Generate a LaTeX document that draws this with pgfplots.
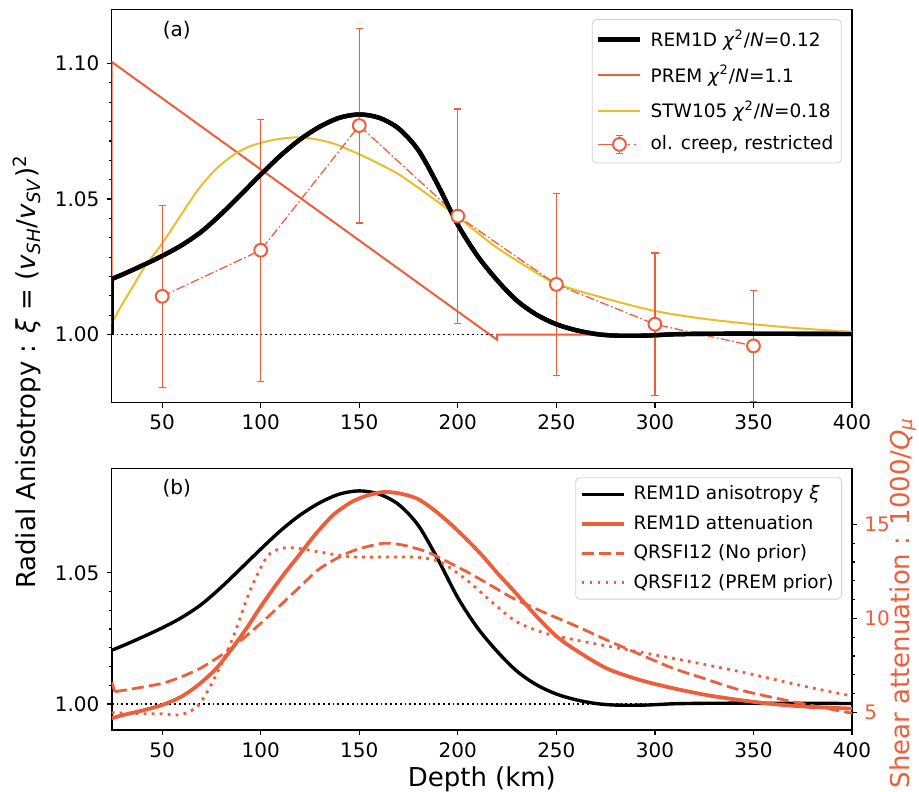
\documentclass[border=0pt]{standalone}
\usepackage{pgfplots}
\pgfplotsset{compat=1.18}
\usepackage{pgfplotstable}
\usepackage{fontspec}
\setmainfont{DejaVu Sans}[ItalicFont={DejaVu Sans Oblique},BoldFont={DejaVu Sans Bold}]
\definecolor{oc}{RGB}{237,95,60}
\definecolor{yc}{RGB}{233,190,42}

\pgfplotstableread{
x y
24.4 1.0205
30 1.0222
40 1.0255
50 1.0290
60 1.0330
70 1.0380
80 1.0445
90 1.0517
100 1.0590
110 1.0660
120 1.0720
130 1.0767
140 1.0800
150 1.0812
160 1.0800
170 1.0760
180 1.0680
190 1.0550
200 1.0405
210 1.0290
220 1.0200
230 1.0125
240 1.0073
250 1.0038
260 1.0016
270 1.0002
280 0.9996
295 0.9996
310 1.0001
330 1.0003
360 1.0003
400 1.0002
}\remxi

\pgfplotstableread{
x y
24.4 1.0000
24.4 1.1006
220 0.9980
220 1.0000
400 1.0000
}\prem

\pgfplotstableread{
x y
24.4 1.0041
30 1.0115
35.4 1.0180
41.2 1.0250
50 1.0336
60 1.0446
69.3 1.0545
78 1.0615
86.1 1.0662
93 1.0690
100 1.0707
108 1.0720
116.5 1.0727
125 1.0724
136.8 1.0705
150 1.0665
160 1.0630
170.7 1.0588
185 1.0515
200 1.0434
218 1.0330
235 1.0250
250 1.0188
275 1.0133
300 1.0087
325 1.0058
350 1.0038
375 1.0022
400 1.0010
}\stw

\pgfplotstableread{
x y e
50 1.0141 0.0336
100 1.0311 0.0483
150 1.0771 0.0359
200 1.0437 0.0395
250 1.0185 0.0335
300 1.0038 0.0263
350 0.9958 0.0205
}\creep

\pgfplotstableread{
x y
24.4 4.68
30 4.85
40 5.10
50 5.39
60 5.85
69.3 6.54
78 7.40
86.1 8.49
93 9.50
100 10.62
110 12.10
119.9 13.42
128 14.50
136.8 15.50
145 16.12
150 16.38
155 16.56
162.2 16.72
170 16.65
179.1 16.38
187.5 15.80
196 15.05
204.5 14.20
212.9 13.28
221 12.30
229.8 11.30
240 10.10
250 9.05
260 8.30
275.5 7.34
292.4 6.72
309.3 6.28
326.2 5.92
343.2 5.65
360 5.44
377 5.30
400 5.20
}\remq

\pgfplotstableread{
x y
26 6.10
35 6.25
50 6.54
60 6.90
69.3 7.34
78 7.90
86.1 8.49
100 9.73
110 10.70
119.9 11.68
130 12.65
141.9 13.37
150 13.70
162.2 13.99
172 13.90
184.2 13.54
194 13.05
204.5 12.48
216 11.80
228.2 11.06
243 10.35
252 9.95
264 9.40
275.5 8.85
292 8.10
309.3 7.34
325 6.80
343.2 6.19
370.2 5.56
400 4.95
}\qnp

\pgfplotstableread{
x y
24.4 4.98
40 4.93
50 4.92
57.5 4.86
63 5.00
69.3 5.48
77.8 7.07
86.1 9.02
94.7 11.50
103.2 13.27
110 13.70
116.8 13.75
128.6 13.55
145.3 13.28
165 13.26
179.3 13.25
191 13.00
204.5 12.04
218 10.80
229.8 9.82
243 9.25
255 8.95
275.5 8.53
309.3 7.87
343.2 7.16
377 6.36
400 5.87
}\qpp

\pgfplotsset{
  myax/.style={
    scale only axis, width=370.15pt,
    xmin=24.4, xmax=400,
    xtick={50,100,...,400},
    tick align=outside,
    major tick length=2.6pt, minor tick length=1.6pt,
    every tick/.style={black, line width=0.6pt},
    axis line style={line width=0.6pt},
    tick label style={font=\fontsize{10}{12}\selectfont},
    /pgf/number format/assume math mode=true,
    legend cell align=left,
  },
  legline/.style={legend image code/.code={\draw[##1] (0pt,0pt) -- (21pt,0pt);}},
}

\begin{document}
\begin{tikzpicture}
\useasboundingbox (0,0) rectangle (459.5pt,-395.5pt);

% ---------- panel (a) ----------
\begin{axis}[myax,
  at={(55.85pt,-201.15pt)}, anchor=south west,
  height=196.5pt,
  ymin=0.975, ymax=1.12,
  ytick={1.00,1.05,1.10},
  minor y tick num=6,
  xtick pos=bottom, ytick pos=left,
  yticklabel style={/pgf/number format/.cd, fixed, fixed zerofill, precision=2},
  legend style={at={(0.986,0.975)}, anchor=north east, draw=black!18, rounded corners=2pt,
    fill=white, font=\fontsize{9.25}{11}\selectfont, row sep=3.6pt,
    inner xsep=2pt, inner ysep=3pt, column sep=2pt},
]
\addplot[black, line width=0.9pt, dash pattern=on 0.9pt off 1.5pt, forget plot] coordinates {(24.4,1) (400,1)};
\addplot[black, line width=2.2pt, smooth, legline] table[x=x,y=y]{\remxi};
\addlegendentry{REM1D \textit{χ}\textsuperscript{2}/\textit{N}=0.12}
\addplot[oc, line width=1pt, legline] table[x=x,y=y]{\prem};
\addlegendentry{PREM \textit{χ}\textsuperscript{2}/\textit{N}=1.1}
\addplot[yc, line width=1pt, smooth, legline] table[x=x,y=y]{\stw};
\addlegendentry{STW105 \textit{χ}\textsuperscript{2}/\textit{N}=0.18}
\addplot[oc, line width=0.65pt, dash pattern=on 4.5pt off 1.3pt on 0.8pt off 1.3pt,
  mark=*, mark size=3.2pt, mark options={solid, fill=white, draw=oc, line width=1pt},
  legend image code/.code={
    \draw[solid, oc, line width=0.65pt] (0pt,0pt) -- (14pt,0pt);
    \draw[oc, line width=0.65pt, dash pattern=on 1pt off 2pt] (15pt,0pt) -- (21pt,0pt);
    \draw[solid, oc, line width=0.65pt] (10.5pt,-4.5pt) -- (10.5pt,4.5pt);
    \draw[solid, oc, line width=0.65pt] (8.7pt,-4.5pt) -- (12.3pt,-4.5pt) (8.7pt,4.5pt) -- (12.3pt,4.5pt);
    \draw[solid, oc, line width=1pt, fill=white] (10.5pt,0pt) circle (3.2pt);
  },
  error bars/.cd, y dir=both, y explicit,
  error mark=|,
  error bar style={solid, oc, line width=0.65pt},
  error mark options={solid, oc, line width=0.65pt, mark size=1.8pt},
  ] table[x=x,y=y,y error=e]{\creep};
\addlegendentry{ol. creep, restricted}
\addplot[black, line width=2.2pt, forget plot] coordinates {(24.4,1) (24.4,1.0205)};
\addplot[black, line width=2.2pt, smooth, forget plot] table[x=x,y=y]{\remxi};
\node at (rel axis cs:0.088,0.947) {\fontsize{10}{12}\selectfont (a)};
\end{axis}

% ---------- panel (b) ----------
\begin{axis}[myax,
  at={(55.85pt,-365pt)}, anchor=south west,
  height=130.85pt,
  ymin=0.9901, ymax=1.0898,
  ytick={1.00,1.05},
  minor y tick num=6,
  xtick pos=bottom, ytick pos=left,
  yticklabel style={/pgf/number format/.cd, fixed, fixed zerofill, precision=2},
  xlabel={Depth (km)},
  xlabel style={font=\fontsize{13}{15}\selectfont, yshift=2pt},
]
\addplot[black, line width=0.9pt, dash pattern=on 0.9pt off 1.5pt] coordinates {(24.4,1) (400,1)};
\addplot[black, line width=1.7pt] coordinates {(24.4,0.99) (24.4,1.0205)};
\addplot[black, line width=1.7pt, smooth] table[x=x,y=y]{\remxi};
\node at (rel axis cs:0.088,0.925) {\fontsize{10}{12}\selectfont (b)};
\end{axis}

\begin{axis}[myax,
  at={(55.85pt,-365pt)}, anchor=south west,
  height=130.85pt,
  ymin=4.06, ymax=17.98,
  ytick={5,10,15},
  minor y tick num=4,
  axis x line=none,
  axis y line*=right,
  yticklabel style={text=oc},
  legend style={at={(0.9865,0.9656)}, anchor=north east, draw=black!18, rounded corners=2pt,
    fill=white, font=\fontsize{9.25}{11}\selectfont, row sep=2.2pt,
    inner xsep=2pt, inner ysep=2pt, column sep=2pt},
]
\addlegendimage{black, line width=1.7pt, legline}
\addlegendentry{REM1D anisotropy \textit{ξ}}
\addplot[oc, line width=1.9pt, smooth, legline] table[x=x,y=y]{\remq};
\addlegendentry{REM1D attenuation}
\addplot[oc, line width=1.4pt, smooth, dash pattern=on 6pt off 2.6pt, legline] table[x=x,y=y]{\qnp};
\addlegendentry{QRSFI12 (No prior)}
\addplot[oc, line width=1.4pt, smooth, dash pattern=on 1.4pt off 2.6pt, legline] table[x=x,y=y]{\qpp};
\addlegendentry{QRSFI12 (PREM prior)}
\addplot[oc, line width=1.4pt, forget plot] coordinates {(24.4,6.6) (26,6.1)};
\end{axis}

\node[rotate=90, font=\fontsize{13}{15}\selectfont] at (13.5pt,-186pt)
  {Radial Anisotropy : \textit{ξ} = (\textit{v}\textsubscript{\textit{SH}}/\textit{v}\textsubscript{\textit{SV}})\textsuperscript{2}};
\node[rotate=90, font=\fontsize{13}{15}\selectfont, text=oc] at (451.5pt,-301.5pt)
  {Shear attenuation : 1000/\textit{Q}\textsubscript{\textit{μ}}};
\end{tikzpicture}
\end{document}
